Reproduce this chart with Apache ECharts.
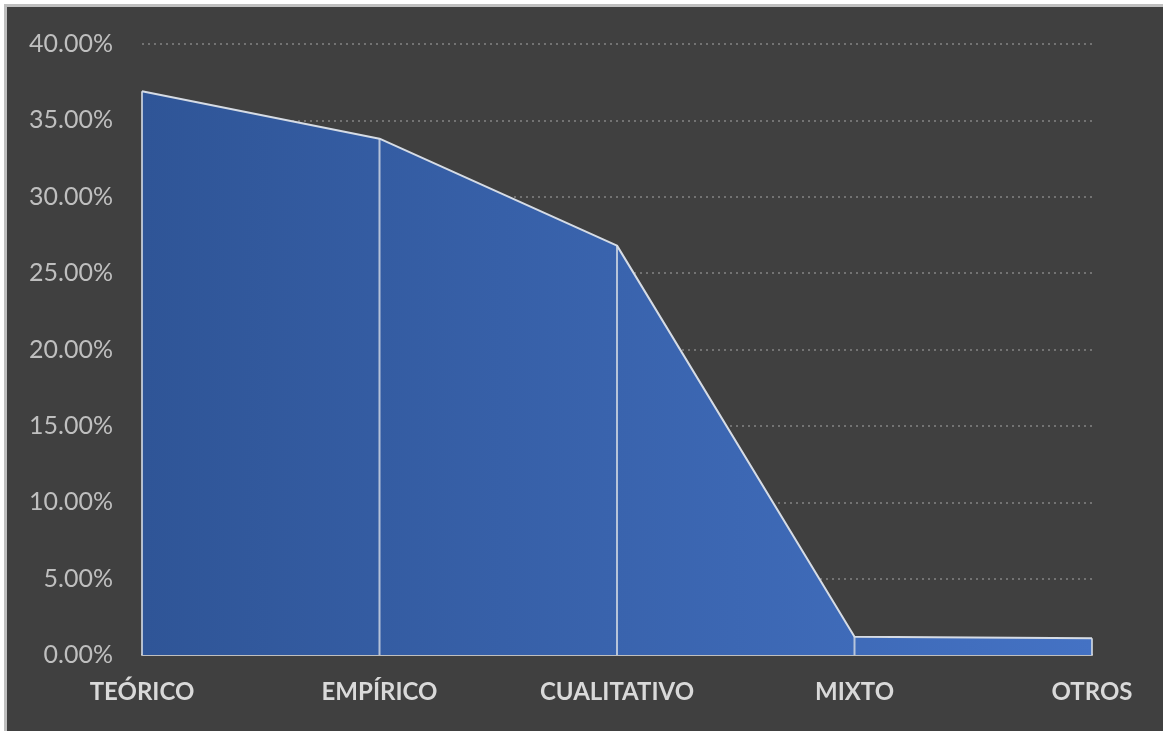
<!DOCTYPE html>
<html>
<head>
<meta charset="utf-8">
<script src="https://cdn.jsdelivr.net/npm/echarts@6/dist/echarts.min.js"></script>
<style>
html,body{margin:0;padding:0;background:#ffffff;width:1163px;height:731px;overflow:hidden;}
#chart{position:absolute;left:4px;top:4px;width:1159px;height:727px;border-left:3px solid #BFBFBF;border-top:3px solid #BFBFBF;box-sizing:border-box;background:#404040;}
</style>
</head>
<body>
<div id="chart"></div>
<script>
const categories = ['TEÓRICO', 'EMPÍRICO', 'CUALITATIVO', 'MIXTO', 'OTROS'];
const values = [0.369, 0.338, 0.268, 0.012, 0.011];
const yTicks = [0, 0.05, 0.10, 0.15, 0.20, 0.25, 0.30, 0.35, 0.40];

const chart = echarts.init(document.getElementById('chart'), null, {renderer: 'canvas'});
chart.setOption({
  backgroundColor: '#404040',
  animation: false,
  grid: {left: 135, right: 71, top: 37, bottom: 76, containLabel: false},
  xAxis: {
    type: 'category',
    data: categories,
    boundaryGap: false,
    axisLine: {show: true, lineStyle: {color: '#BFBFBF', width: 2}},
    axisTick: {show: false},
    splitLine: {show: false},
    axisLabel: {
      color: '#D9D9D9', fontFamily: 'Lato, "Open Sans", sans-serif', fontWeight: 'bold',
      fontSize: 24, margin: 25, interval: 0
    }
  },
  yAxis: {
    type: 'value',
    min: yTicks[0],
    max: yTicks[yTicks.length - 1],
    interval: 0.05,
    axisLine: {show: false},
    axisTick: {show: false},
    splitLine: {show: true, lineStyle: {color: '#737373', type: [2, 4], width: 2}},
    axisLabel: {
      color: '#BFBFBF', fontFamily: 'Lato, "Open Sans", sans-serif', fontSize: 25, margin: 29,
      formatter: v => (v * 100).toFixed(2) + '%'
    }
  },
  series: [
    {
      type: 'line',
      data: values,
      symbol: 'none',
      z: 2,
      lineStyle: {color: '#D6DCE5', width: 2},
      areaStyle: {
        opacity: 1,
        color: new echarts.graphic.LinearGradient(0, 0, 1, 0, [
          {offset: 0, color: '#2F5597'},
          {offset: 1, color: '#4472C4'}
        ])
      }
    },
    {
      type: 'bar',
      data: values,
      barWidth: 2,
      z: 3,
      itemStyle: {color: 'rgba(214,220,229,0.8)'}
    }
  ]
});
</script>
</body>
</html>
